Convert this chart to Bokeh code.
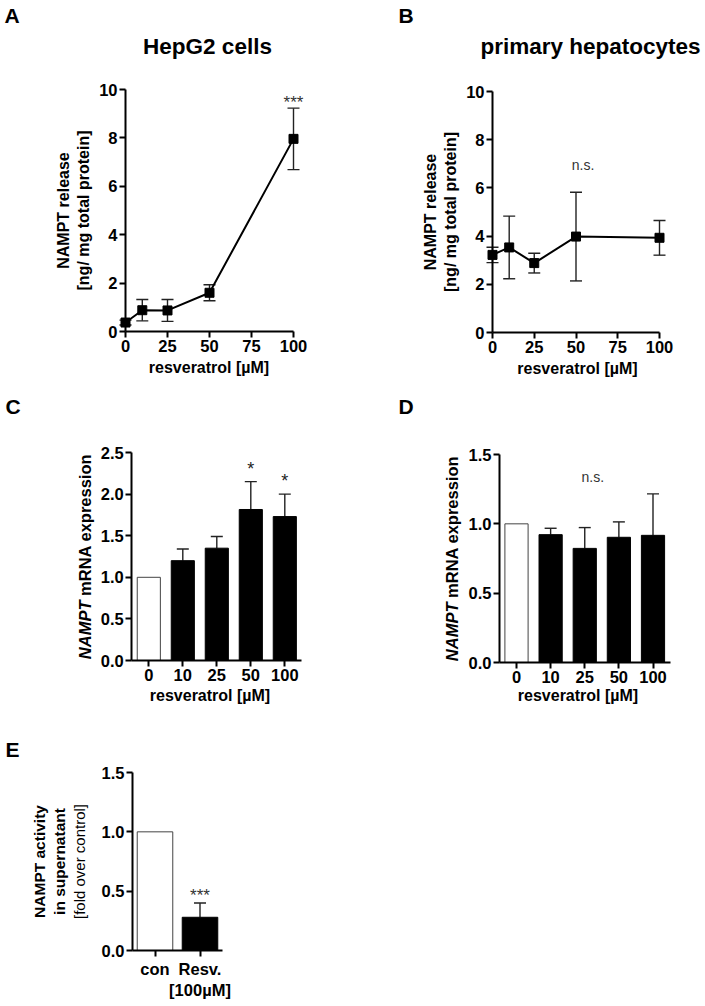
import math
from bokeh.plotting import figure
from bokeh.models import (Range1d, FixedTicker, NumeralTickFormatter,
                          Label, Whisker, TeeHead, ColumnDataSource)
from bokeh.layouts import row, column
from bokeh.embed import file_html
from bokeh.resources import INLINE
from bokeh.core.properties import value

FONT = "Liberation Sans"

# ---------------- data ----------------
dose = [0, 10, 25, 50, 100]
dose_labels = ["0", "10", "25", "50", "100"]
dose_ticks = [0, 25, 50, 75, 100]
release_ticks = [0, 2, 4, 6, 8, 10]

hepg2_release = [0.37, 0.88, 0.87, 1.60, 7.96]
hepg2_release_sem = [0.10, 0.44, 0.45, 0.33, 1.27]

prim_release = [3.22, 3.53, 2.88, 3.98, 3.93]
prim_release_sem = [0.32, 1.30, 0.41, 1.84, 0.72]

hepg2_mrna = [1.00, 1.20, 1.35, 1.815, 1.73]
hepg2_mrna_sem = [0.0, 0.14, 0.14, 0.335, 0.27]
hepg2_mrna_sig = ["", "", "", "*", "*"]

prim_mrna = [1.00, 0.922, 0.823, 0.903, 0.917]
prim_mrna_sem = [0.0, 0.046, 0.15, 0.111, 0.299]

activity_groups = ["con", "Resv.\n[100µM]"]
activity = [1.00, 0.28]
activity_sem = [0.0, 0.12]
activity_sig = ["", "***"]

bar_fill = ["white", "black", "black", "black", "black"]
bar_line = ["#444444", "black", "black", "black", "black"]

VERT = math.pi / 2
TICK_SIZE = "16.5px"


# ---------------- helpers ----------------
def rng(d0, p0, d1, p1, size):
    """range so that data d0 lies at pixel p0 and d1 at p1 of a canvas of given size"""
    k = (p1 - p0) / (d1 - d0)
    start = d0 - p0 / k
    return Range1d(start, start + size / k)


def make_fig(w, h, xr, yr):
    p = figure(width=w, height=h, x_range=xr, y_range=yr,
               min_border=0, min_border_left=0, min_border_right=0,
               min_border_top=0, min_border_bottom=0,
               output_backend="svg", toolbar_location=None)
    p.xgrid.visible = False
    p.ygrid.visible = False
    p.outline_line_color = None
    p.background_fill_color = "white"
    p.border_fill_color = "white"
    for ax in p.axis:
        ax.axis_line_width = 2
        ax.axis_line_color = "black"
        ax.major_tick_line_width = 2
        ax.major_tick_line_color = "black"
        ax.major_tick_out = 6
        ax.major_tick_in = 0
        ax.minor_tick_line_color = None
        ax.major_label_text_font = FONT
        ax.major_label_text_font_style = "bold"
        ax.major_label_text_font_size = TICK_SIZE
        ax.major_label_text_color = "black"
        ax.major_label_standoff = 2
    return p


def lab(p, text, x, y, size, style="bold", angle=0.0, align="left", baseline="alphabetic"):
    p.add_layout(Label(x=x, y=y, x_units="screen", y_units="screen", text=text,
                       angle=angle, text_font=FONT, text_font_size=size,
                       text_font_style=style, text_align=align,
                       text_baseline=baseline, text_color="black"))


def whiskers(p, base, mean, sem, both=True):
    keep = [i for i in range(len(mean)) if sem[i] > 0]
    src = ColumnDataSource(dict(
        base=[base[i] for i in keep],
        upper=[mean[i] + sem[i] for i in keep],
        lower=[(mean[i] - sem[i]) if both else mean[i] for i in keep]))
    head = lambda: TeeHead(size=12, line_width=1.4, line_color="#222222")
    p.add_layout(Whisker(source=src, base="base", upper="upper", lower="lower",
                         line_width=1.4, line_color="#222222",
                         upper_head=head(), lower_head=head() if both else None))


def axes(p, xloc, yloc, xb, yb, xt, yt):
    p.xaxis.fixed_location = xloc
    p.yaxis.fixed_location = yloc
    p.xaxis.bounds = xb
    p.yaxis.bounds = yb
    p.xaxis.ticker = FixedTicker(ticks=xt)
    p.yaxis.ticker = FixedTicker(ticks=yt)


# ---------------- panel A ----------------
pA = make_fig(350, 378, rng(0, 125, 100, 293, 350), rng(0, 47, 10, 289, 378))
axes(pA, 0, 0, (0, 100), (0, 10), dose_ticks, release_ticks)
whiskers(pA, dose, hepg2_release, hepg2_release_sem)
pA.line(dose, hepg2_release, line_width=2, color="black")
pA.scatter(dose, hepg2_release, marker="square", size=9, color="black")
pA.text(x=[dose[-1]], y=[hepg2_release[-1] + hepg2_release_sem[-1]], text=["***"],
        text_font=value(FONT), text_font_size="17px", text_align="center",
        text_baseline="alphabetic", y_offset=-6, text_color="#333333")
lab(pA, "A", 4, 363, "21px")
lab(pA, "HepG2 cells", 207, 332, "22.5px", align="center")
lab(pA, "NAMPT release", 62.5, 168, "16px", angle=VERT, align="center", baseline="middle")
lab(pA, "[ng/ mg total protein]", 82.5, 168, "16px", angle=VERT, align="center", baseline="middle")
lab(pA, "resveratrol [µM]", 208.5, 11.5, "16px", align="center")

# ---------------- panel B ----------------
pB = make_fig(352, 378, rng(0, 142, 100, 309, 352), rng(0, 46, 10, 287, 378))
axes(pB, 0, 0, (0, 100), (0, 10), dose_ticks, release_ticks)
whiskers(pB, dose, prim_release, prim_release_sem)
pB.line(dose, prim_release, line_width=2, color="black")
pB.scatter(dose, prim_release, marker="square", size=9, color="black")
pB.text(x=[dose[3]], y=[prim_release[3] + prim_release_sem[3]], text=["n.s."],
        text_font=value(FONT), text_font_size="14px", text_align="center",
        text_baseline="alphabetic", x_offset=7, y_offset=-27, text_color="#333333")
lab(pB, "B", 48, 363, "21px")
lab(pB, "primary hepatocytes", 240, 332, "22.5px", align="center")
lab(pB, "NAMPT release", 80, 166.5, "16px", angle=VERT, align="center", baseline="middle")
lab(pB, "[ng/ mg total protein]", 99.5, 166.5, "16px", angle=VERT, align="center", baseline="middle")
lab(pB, "resveratrol [µM]", 227, 10.5, "16px", align="center")

# ---------------- panel C ----------------
idx5 = list(range(len(dose_labels)))
pC = make_fig(350, 329, rng(0, 148.3, 4, 284.3, 350), rng(0, 47, 2.5, 255, 329))
axes(pC, 0, -0.5, (-0.5, 4.5), (0, 2.5), idx5, [0, 0.5, 1.0, 1.5, 2.0, 2.5])
pC.xaxis.major_label_overrides = {i: dose_labels[i] for i in idx5}
pC.yaxis.formatter = NumeralTickFormatter(format="0.0")
whiskers(pC, idx5, hepg2_mrna, hepg2_mrna_sem, both=False)
pC.vbar(x=idx5, top=hepg2_mrna, width=0.68, fill_color=bar_fill,
        line_color=bar_line, line_width=1)
sigC = [i for i in idx5 if hepg2_mrna_sig[i]]
pC.text(x=sigC, y=[hepg2_mrna[i] + hepg2_mrna_sem[i] for i in sigC],
        text=[hepg2_mrna_sig[i] for i in sigC],
        text_font=value(FONT), text_font_size="18px", text_align="center",
        text_baseline="alphabetic", y_offset=-13, text_color="#222222")
lab(pC, "C", 5, 301, "21px")
lab(pC, "NAMPT", 84, 107, "16.5px", style="bold italic", angle=VERT, align="right", baseline="middle")
lab(pC, "mRNA expression", 84, 111.6, "16.5px", angle=VERT, align="left", baseline="middle")
lab(pC, "resveratrol [µM]", 209.5, 12.5, "16px", align="center")

# ---------------- panel D ----------------
pD = make_fig(352, 329, rng(0, 166, 4, 302.5, 352), rng(0, 45, 1.5, 253, 329))
axes(pD, 0, -0.5, (-0.5, 4.5), (0, 1.5), idx5, [0, 0.5, 1.0, 1.5])
pD.xaxis.major_label_overrides = {i: dose_labels[i] for i in idx5}
pD.yaxis.formatter = NumeralTickFormatter(format="0.0")
whiskers(pD, idx5, prim_mrna, prim_mrna_sem, both=False)
pD.vbar(x=idx5, top=prim_mrna, width=0.68, fill_color=bar_fill,
        line_color=bar_line, line_width=1)
pD.text(x=[2], y=[1.335], text=["n.s."],
        text_font=value(FONT), text_font_size="14px", text_align="center",
        text_baseline="alphabetic", x_offset=8, text_color="#333333")
lab(pD, "D", 48, 301, "21px")
lab(pD, "NAMPT", 101.5, 105, "16.5px", style="bold italic", angle=VERT, align="right", baseline="middle")
lab(pD, "mRNA expression", 101.5, 109.6, "16.5px", angle=VERT, align="left", baseline="middle")
lab(pD, "resveratrol [µM]", 227.5, 12.5, "16px", align="center")

# ---------------- panel E ----------------
idx2 = list(range(len(activity_groups)))
pE = make_fig(350, 295, rng(0, 154.5, 1, 199.5, 350), rng(0, 52, 1.5, 230, 295))
axes(pE, 0, -0.5, (-0.5, 1.5), (0, 1.5), idx2, [0, 0.5, 1.0, 1.5])
pE.xaxis.major_label_overrides = {i: activity_groups[i] for i in idx2}
pE.xaxis.major_label_standoff = 3
pE.yaxis.formatter = NumeralTickFormatter(format="0.0")
whiskers(pE, idx2, activity, activity_sem, both=False)
pE.vbar(x=idx2, top=activity, width=0.79, fill_color=bar_fill[:2],
        line_color=bar_line[:2], line_width=1)
sigE = [i for i in idx2 if activity_sig[i]]
pE.text(x=sigE, y=[activity[i] + activity_sem[i] for i in sigE],
        text=[activity_sig[i] for i in sigE],
        text_font=value(FONT), text_font_size="17px", text_align="center",
        text_baseline="alphabetic", y_offset=-8, text_color="#333333")
lab(pE, "E", 5, 253, "21px")
lab(pE, "NAMPT activity", 39, 141, "15.5px", angle=VERT, align="center", baseline="middle")
lab(pE, "in supernatant", 59, 141, "15.5px", angle=VERT, align="center", baseline="middle")
lab(pE, "[fold over control]", 79, 141, "15px", style="normal", angle=VERT, align="center", baseline="middle")

layout = column(row(pA, pB), row(pC, pD), pE)
open("out.html", "w").write(file_html(layout, INLINE))
